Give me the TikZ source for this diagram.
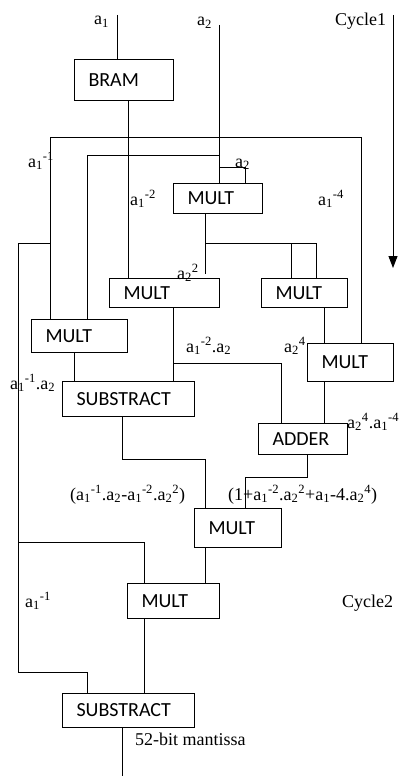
\documentclass[tikz,border=0pt]{standalone}
\usepackage{fontspec}
\setmainfont{Liberation Serif}
\newfontfamily\boxfont{Carlito}
\usetikzlibrary{arrows.meta}
\newcommand\lsb[1]{\textsubscript{#1}}
\newcommand\lsp[1]{\textsuperscript{#1}}
\tikzset{
 blk/.style={draw, line width=1pt, anchor=north west, inner xsep=14pt, inner ysep=0pt, align=left, font=\boxfont\fontsize{20}{20}\selectfont},
 wire/.style={line width=1pt},
 lbl/.style={anchor=base west, inner sep=0pt, font=\fontsize{18}{18}\selectfont},
}
\begin{document}
\begin{tikzpicture}[x=1pt,y=-1pt]
\useasboundingbox (0,0) rectangle (405,776);
\fill[white] (0,0) rectangle (405,776);
% blocks
\node[blk, minimum height=41pt, text width=71pt] (bram) at (74,59) {BRAM};
\node[blk, minimum height=30pt, text width=61pt] (mult1) at (173,183) {MULT};
\node[blk, minimum height=29pt, text width=82pt] (mult2) at (109,278) {MULT};
\node[blk, minimum height=29pt, text width=58pt] (mult4) at (261,278) {MULT};
\node[blk, minimum height=33pt, text width=68pt] (mult3) at (31,319) {MULT};
\node[blk, minimum height=38pt, text width=58pt] (mult5) at (307,343) {MULT};
\node[blk, minimum height=35pt, text width=104pt] (sub1) at (62,381) {SUBSTRACT};
\node[blk, minimum height=31pt, text width=61pt] (adder) at (258,423) {ADDER};
\node[blk, minimum height=39pt, text width=59pt] (mult6) at (194,508) {MULT};
\node[blk, minimum height=35pt, text width=64pt] (mult7) at (127,583) {MULT};
\node[blk, minimum height=34pt, text width=104pt] (sub2) at (62,693) {SUBSTRACT};
% coordinates
\coordinate (ina1) at (117,15);
\coordinate (ina2) at (219,25);
\coordinate (cyctop) at (393,15);
\coordinate (cycend) at (393,268);
\coordinate (outm) at (122,776);
% wires
\draw[wire] (ina1) -- (ina1 |- bram.north);
\draw[wire] (ina2) -- (ina2 |- mult1.north);
\draw[wire] (219,167) -- (245,167) -- (245,0 |- mult1.north);
\draw[wire] (128,0 |- bram.south) -- (128,0 |- mult2.north);
\draw[wire] (50,0 |- mult3.north) -- (50,137) -- (361,137) -- (361,0 |- mult5.north);
\draw[wire] (87,0 |- mult3.north) -- (87,155) -- (219,155);
\draw[wire] (50,243) -- (18,243) -- (18,672) -- (87,672) -- (87,0 |- sub2.north);
\draw[wire] (18,542) -- (144,542) -- (144,0 |- mult7.north);
\draw[wire] (205,0 |- mult1.south) -- (205,274);
\draw[wire] (205,243) -- (316,243) -- (316,0 |- mult4.north);
\draw[wire] (291,243) -- (291,0 |- mult4.north);
\draw[wire] (173,0 |- mult2.south) -- (173,0 |- sub1.north);
\draw[wire] (173,363) -- (281,363) -- (281,0 |- adder.north);
\draw[wire] (74,0 |- mult3.south) -- (74,0 |- sub1.north);
\draw[wire] (324,0 |- mult4.south) -- (324,0 |- mult5.north);
\draw[wire] (324,0 |- mult5.south) -- (324,0 |- adder.north);
\draw[wire] (122,0 |- sub1.south) -- (122,459) -- (205,459) -- (205,0 |- mult6.north);
\draw[wire] (307,0 |- adder.south) -- (307,477) -- (245,477) -- (245,0 |- mult6.north);
\draw[wire] (205,0 |- mult6.south) -- (205,0 |- mult7.north);
\draw[wire] (144,0 |- mult7.south) -- (144,0 |- sub2.north);
\draw[wire] (122,0 |- sub2.south) -- (outm);
\draw[wire, -{Triangle[width=9pt,length=12pt]}] (cyctop) -- (cycend);
% labels
\node[lbl] (la1) at (94,25) {a\lsb{1}};
\node[lbl] (la2) at (197,26) {a\lsb{2}};
\node[lbl] (lc1) at (335,26) {Cycle1};
\node[lbl] (la1m1) at (28,167) {a\lsb{1}\lsp{-1}};
\node[lbl] (la2s) at (235,167) {a\lsb{2}};
\node[lbl] (la1m2) at (130,205) {a\lsb{1}\lsp{-2}};
\node[lbl] (la1m4) at (318,205) {a\lsb{1}\lsp{-4}};
\node[lbl] (la22) at (177,279) {a\lsb{2}\lsp{2}};
\node[lbl] (lprod) at (186,352) {a\lsb{1}\lsp{-2}.a\lsb{2}};
\node[lbl] (la24) at (284,352) {a\lsb{2}\lsp{4}};
\node[lbl] (lprod2) at (10,389) {a\lsb{1}\lsp{-1}.a\lsb{2}};
\node[lbl] (lprod3) at (347,428) {a\lsb{2}\lsp{4}.a\lsb{1}\lsp{-4}};
\node[lbl] (lexp1) at (70,500) {(a\lsb{1}\lsp{-1}.a\lsb{2}-a\lsb{1}\lsp{-2}.a\lsb{2}\lsp{2})};
\node[lbl] (lexp2) at (228,500) {(1+a\lsb{1}\lsp{-2}.a\lsb{2}\lsp{2}+a\lsb{1}-4.a\lsb{2}\lsp{4})};
\node[lbl] (la1m1b) at (25,607) {a\lsb{1}\lsp{-1}};
\node[lbl] (lc2) at (342,607) {Cycle2};
\node[lbl] (lman) at (135,745) {52-bit mantissa};
\end{tikzpicture}
\end{document}
